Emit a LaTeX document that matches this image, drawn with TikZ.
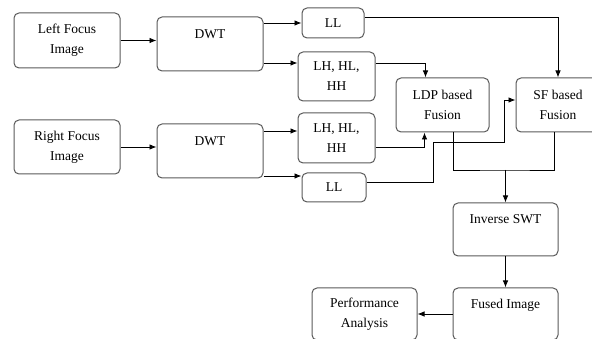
\documentclass[tikz,border=0pt]{standalone}
\usepackage{fontspec}
\setmainfont{Liberation Serif}
\usetikzlibrary{arrows.meta,calc}

\begin{document}
\begin{tikzpicture}[x=1pt,y=-1pt,
    blk/.style={draw=black!65,line width=1pt,rounded corners=5pt,align=center,
                font=\fontsize{13.5}{20}\selectfont,inner sep=0pt},
    arr/.style={line width=0.8pt,-{Latex[length=7pt,width=5.5pt]}}]
            \useasboundingbox (0,0) rectangle (592,339);

            \node[blk,minimum width=106pt,minimum height=55pt] (lfi) at (67,40.5) {Left Focus\\Image};
            \node[blk,minimum width=106pt,minimum height=54pt] (dwta) at (210,44) {DWT\\\mbox{}};
            \node[blk,minimum width=62pt,minimum height=30pt] (lla) at (333,23) {LL};
            \node[blk,minimum width=77pt,minimum height=49pt] (lha) at (336.5,76.5) {LH, HL,\\HH};
            \node[blk,minimum width=93pt,minimum height=54pt] (ldp) at (442.5,105) {LDP based\\Fusion};
            \node[blk,minimum width=84pt,minimum height=54pt] (sf) at (558,105) {SF based\\Fusion};

            \node[blk,minimum width=106pt,minimum height=54pt] (rfi) at (67,147) {Right Focus\\Image};
            \node[blk,minimum width=106pt,minimum height=54pt] (dwtb) at (210,151) {DWT\\\mbox{}};
            \node[blk,minimum width=77pt,minimum height=50pt] (lhb) at (336.5,138) {LH, HL,\\HH};
            \node[blk,minimum width=64pt,minimum height=29pt] (llb) at (334,187.5) {LL};

            \node[blk,minimum width=105pt,minimum height=53pt] (iswt) at (505.5,229.5) {Inverse SWT\\\mbox{}};
            \node[blk,minimum width=105pt,minimum height=52pt] (fused) at (505.5,314) {Fused Image\\\mbox{}};
            \node[blk,minimum width=105pt,minimum height=52pt] (perf) at (364.5,314) {Performance\\Analysis};

            \coordinate (j1) at (433,142);
            \coordinate (j2) at (504,142);
            \coordinate (m) at (iswt.north |- 0,170);

            \draw[arr] (lfi.east) to (lfi.east -| dwta.west);
            \draw[arr] (dwta.east |- lla.west) to (lla.west);
            \draw[arr] ([yshift=-19pt]dwta.east) coordinate (d1) to (d1 -| lha.west);
            \draw[arr] ([yshift=6pt]lla.east) -| (sf.north);
            \draw[arr] ([yshift=13.5pt]lha.east) -| ([xshift=-17pt]ldp.north);

            \draw[arr] (rfi.east) to (rfi.east -| dwtb.west);
            \draw[arr] ([yshift=20pt]dwtb.east) coordinate (d2) to (d2 -| lhb.west);
            \draw[arr] ([yshift=-25pt]dwtb.east) coordinate (d3) to (d3 -| llb.west);
            \draw[arr] ([yshift=-9pt]lhb.east) -| ([xshift=-18pt]ldp.south);
            \draw[arr] ([yshift=5.5pt]llb.east) -| (j1) to (j2) |- ([yshift=5pt]sf.west);

            \draw[line width=0.8pt] ([xshift=10.5pt]ldp.south) |- (m) -| ([xshift=-4pt]sf.south);
            \draw[arr] (m) to (iswt.north);
            \draw[arr] (iswt.south) to (fused.north);
            \draw[arr] (fused.west) to (perf.east);
        \end{tikzpicture}
\end{document}
